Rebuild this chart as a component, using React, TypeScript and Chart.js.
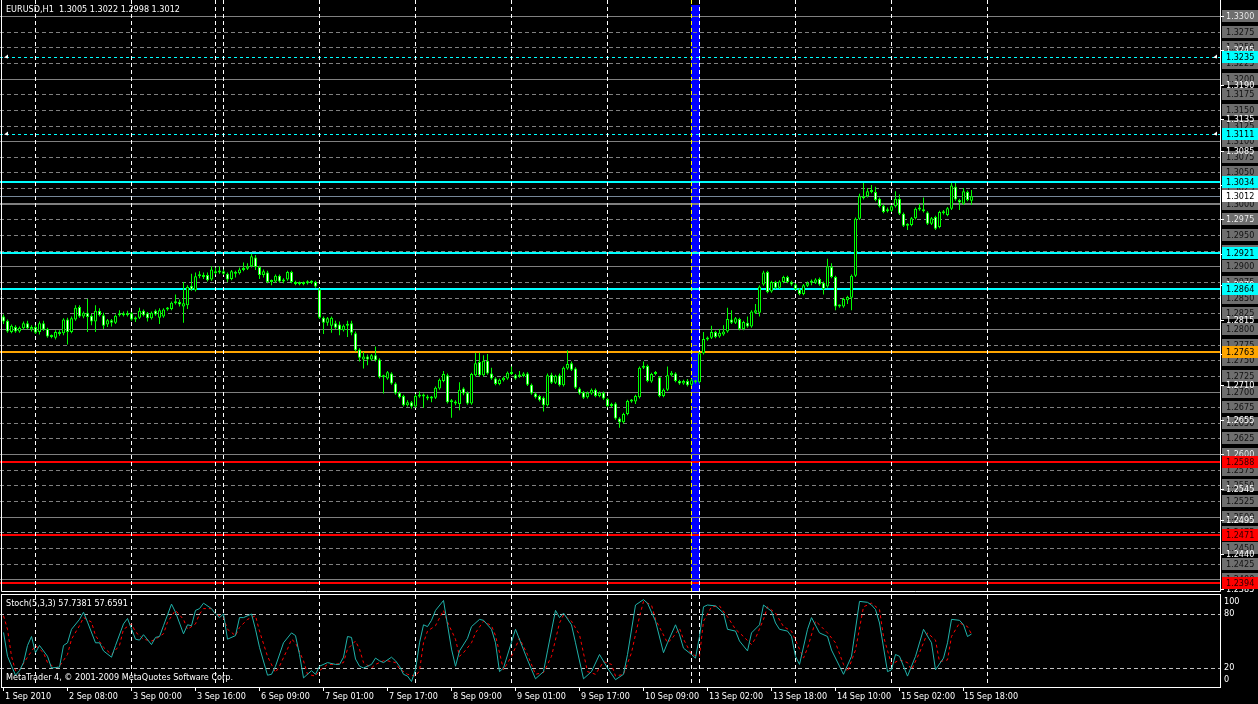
import React, { useEffect, useRef } from 'react';
import { Chart, registerables } from 'chart.js';

Chart.register(...registerables);

// ---------- texts ----------
const SYMBOL_TITLE = 'EURUSD,H1  1.3005 1.3022 1.2998 1.3012';
const STOCH_TITLE = 'Stoch(5,3,3) 57.7381 57.6591';
const COPYRIGHT = 'MetaTrader 4, \u00a9 2001-2009 MetaQuotes Software Corp.';

// ---------- hourly candles, prices in pips (1.2820 -> 12820) ----------
const OPEN = [
  12820, 12813, 12795, 12803, 12796, 12801, 12809, 12799, 12803, 12795,
  12809, 12800, 12787, 12786, 12795, 12793, 12815, 12795, 12815, 12835,
  12820, 12826, 12821, 12812, 12829, 12822, 12807, 12814, 12810, 12822,
  12825, 12822, 12825, 12815, 12818, 12829, 12825, 12817, 12829, 12818,
  12820, 12831, 12832, 12841, 12843, 12836, 12838, 12869, 12862, 12884,
  12885, 12886, 12879, 12892, 12890, 12892, 12888, 12880, 12891, 12889,
  12894, 12896, 12900, 12914, 12899, 12886, 12890, 12875, 12876, 12885,
  12876, 12879, 12891, 12875, 12872, 12874, 12873, 12876, 12875, 12863,
  12818, 12810, 12805, 12809, 12807, 12798, 12805, 12809, 12793, 12767,
  12751, 12756, 12751, 12758, 12751, 12723, 12721, 12729, 12713, 12698,
  12693, 12678, 12683, 12676, 12692, 12695, 12692, 12689, 12690, 12705,
  12717, 12726, 12683, 12683, 12680, 12705, 12698, 12681, 12726, 12747,
  12726, 12749, 12729, 12721, 12712, 12718, 12721, 12730, 12726, 12725,
  12725, 12729, 12711, 12697, 12693, 12690, 12678, 12727, 12714, 12726,
  12710, 12737, 12745, 12737, 12705, 12699, 12691, 12697, 12703, 12693,
  12698, 12688, 12677, 12681, 12657, 12651, 12664, 12685, 12684, 12691,
  12738, 12741, 12716, 12728, 12723, 12693, 12703, 12726, 12729, 12717,
  12713, 12717, 12711, 12717, 12715, 12761, 12783, 12786, 12795, 12788,
  12791, 12796, 12815, 12810, 12816, 12800, 12810, 12804, 12826, 12826,
  12871, 12891, 12860, 12875, 12866, 12875, 12883, 12875, 12871, 12863,
  12856, 12869, 12874, 12874, 12880, 12874, 12868, 12899, 12883, 12836,
  12836, 12846, 12850, 12885, 12976, 13012, 13012, 13020, 13019, 13008,
  12997, 12988, 12989, 12996, 13008, 12984, 12965, 12966, 12977, 12991,
  12990, 12986, 12968, 12979, 12963, 12985, 12982, 12992, 13027, 13006,
  13000, 13019, 13005,
];
const HIGH = [
  12823, 12815, 12807, 12806, 12804, 12812, 12813, 12806, 12806, 12812,
  12813, 12802, 12791, 12798, 12798, 12817, 12818, 12820, 12838, 12838,
  12828, 12848, 12824, 12838, 12833, 12826, 12816, 12816, 12823, 12830,
  12828, 12829, 12827, 12820, 12834, 12831, 12827, 12828, 12831, 12833,
  12833, 12835, 12844, 12855, 12847, 12875, 12870, 12888, 12890, 12892,
  12890, 12890, 12900, 12898, 12900, 12895, 12890, 12894, 12893, 12898,
  12906, 12905, 12920, 12918, 12901, 12895, 12893, 12879, 12887, 12887,
  12881, 12893, 12893, 12877, 12876, 12876, 12878, 12878, 12877, 12865,
  12820, 12819, 12820, 12813, 12812, 12807, 12813, 12813, 12796, 12769,
  12763, 12759, 12760, 12772, 12753, 12727, 12733, 12731, 12715, 12700,
  12695, 12686, 12685, 12696, 12700, 12697, 12695, 12693, 12708, 12721,
  12733, 12729, 12688, 12686, 12715, 12707, 12700, 12730, 12762, 12762,
  12758, 12760, 12738, 12723, 12721, 12724, 12732, 12740, 12728, 12733,
  12731, 12731, 12713, 12699, 12695, 12692, 12729, 12730, 12727, 12729,
  12740, 12766, 12748, 12739, 12707, 12701, 12700, 12705, 12705, 12700,
  12700, 12690, 12682, 12683, 12659, 12666, 12687, 12688, 12695, 12740,
  12748, 12743, 12730, 12733, 12725, 12705, 12740, 12733, 12731, 12719,
  12719, 12720, 12720, 12719, 12763, 12795, 12788, 12805, 12797, 12800,
  12806, 12834, 12830, 12819, 12818, 12813, 12820, 12830, 12840, 12870,
  12893, 12893, 12877, 12877, 12878, 12885, 12885, 12877, 12873, 12865,
  12872, 12876, 12879, 12881, 12882, 12876, 12912, 12905, 12885, 12839,
  12850, 12853, 12887, 12978, 13016, 13033, 13025, 13030, 13027, 13010,
  12999, 12994, 12998, 13020, 13015, 12986, 12969, 12979, 12994, 13000,
  13010, 12988, 12979, 12981, 12989, 12990, 12995, 13033, 13033, 13008,
  13025, 13021, 13022,
];
const LOW = [
  12808, 12794, 12793, 12794, 12794, 12799, 12799, 12796, 12792, 12791,
  12797, 12786, 12785, 12783, 12789, 12790, 12775, 12793, 12813, 12818,
  12817, 12795, 12806, 12795, 12820, 12800, 12803, 12804, 12808, 12820,
  12820, 12820, 12813, 12811, 12816, 12820, 12812, 12815, 12821, 12808,
  12818, 12829, 12830, 12839, 12836, 12810, 12832, 12861, 12860, 12881,
  12880, 12876, 12877, 12887, 12888, 12886, 12875, 12878, 12882, 12887,
  12892, 12894, 12898, 12894, 12880, 12882, 12873, 12870, 12874, 12874,
  12873, 12877, 12873, 12870, 12870, 12870, 12871, 12872, 12866, 12816,
  12792, 12805, 12794, 12800, 12790, 12796, 12787, 12790, 12764, 12748,
  12737, 12742, 12749, 12748, 12721, 12697, 12719, 12711, 12695, 12689,
  12676, 12676, 12673, 12674, 12690, 12674, 12686, 12683, 12688, 12703,
  12715, 12681, 12658, 12678, 12670, 12694, 12679, 12679, 12724, 12724,
  12724, 12727, 12719, 12710, 12710, 12716, 12719, 12727, 12719, 12722,
  12723, 12709, 12695, 12689, 12684, 12668, 12676, 12712, 12712, 12708,
  12708, 12735, 12733, 12704, 12695, 12688, 12689, 12695, 12691, 12691,
  12687, 12675, 12675, 12655, 12642, 12649, 12662, 12682, 12680, 12689,
  12736, 12715, 12714, 12726, 12691, 12691, 12701, 12724, 12715, 12711,
  12711, 12708, 12709, 12713, 12713, 12759, 12781, 12784, 12785, 12786,
  12789, 12794, 12808, 12808, 12798, 12798, 12802, 12802, 12824, 12820,
  12869, 12857, 12858, 12864, 12864, 12873, 12873, 12869, 12862, 12854,
  12854, 12867, 12870, 12872, 12869, 12855, 12866, 12881, 12830, 12834,
  12834, 12840, 12830, 12883, 12974, 13007, 13010, 13017, 13004, 12994,
  12985, 12986, 12987, 12994, 12982, 12963, 12958, 12964, 12975, 12989,
  12986, 12966, 12966, 12958, 12961, 12983, 12980, 12990, 13005, 12990,
  12998, 13004, 12998,
];
const CLOSE = [
  12812, 12796, 12805, 12796, 12802, 12809, 12801, 12803, 12794, 12809,
  12799, 12788, 12789, 12795, 12792, 12815, 12795, 12817, 12834, 12820,
  12826, 12819, 12812, 12829, 12822, 12805, 12814, 12810, 12821, 12825,
  12822, 12825, 12815, 12818, 12829, 12822, 12817, 12826, 12823, 12830,
  12831, 12833, 12842, 12843, 12839, 12841, 12867, 12863, 12884, 12885,
  12883, 12878, 12895, 12889, 12892, 12888, 12879, 12892, 12888, 12895,
  12896, 12900, 12916, 12899, 12886, 12892, 12875, 12877, 12885, 12876,
  12879, 12891, 12875, 12872, 12874, 12872, 12876, 12874, 12868, 12818,
  12810, 12817, 12818, 12802, 12798, 12805, 12807, 12794, 12766, 12754,
  12756, 12751, 12758, 12750, 12723, 12725, 12731, 12713, 12697, 12691,
  12678, 12683, 12676, 12693, 12695, 12692, 12689, 12691, 12706, 12719,
  12728, 12683, 12686, 12681, 12703, 12697, 12681, 12728, 12745, 12726,
  12749, 12729, 12721, 12712, 12719, 12722, 12730, 12728, 12721, 12724,
  12729, 12711, 12697, 12691, 12686, 12678, 12726, 12714, 12725, 12710,
  12738, 12744, 12735, 12706, 12697, 12690, 12698, 12703, 12693, 12698,
  12689, 12677, 12680, 12657, 12651, 12664, 12685, 12684, 12693, 12738,
  12741, 12717, 12728, 12729, 12693, 12703, 12726, 12730, 12717, 12713,
  12717, 12710, 12718, 12715, 12761, 12784, 12786, 12795, 12787, 12794,
  12796, 12816, 12810, 12817, 12800, 12811, 12804, 12828, 12830, 12868,
  12890, 12859, 12875, 12866, 12876, 12883, 12875, 12871, 12864, 12856,
  12870, 12874, 12875, 12879, 12871, 12864, 12900, 12883, 12836, 12837,
  12848, 12851, 12885, 12976, 13012, 13009, 13020, 13019, 13006, 12996,
  12987, 12991, 12996, 13008, 12984, 12965, 12967, 12977, 12992, 12993,
  12988, 12968, 12977, 12960, 12987, 12988, 12993, 13029, 13007, 13002,
  13020, 13006, 13012,
];

// ---------- Stochastic(5,3,3): vertices read from the sub-window [bar, value] ----------
const STOCH_MAIN: [number, number][] = [
  [0, 59.5], [1, 33], [3, 12], [4, 17], [5, 26], [6, 45], [7, 55], [8, 37], [9, 45], [11, 33],
  [12, 20], [14, 21], [15, 45], [16, 48], [17, 63], [19, 74], [20, 82], [21, 71], [23, 48], [24, 48],
  [25, 39], [27, 32], [28, 45], [30, 69], [31, 75], [33, 52], [34, 51], [35, 57], [37, 46], [38, 54],
  [39, 55], [40, 67], [42, 91], [43, 82], [45, 58], [46, 68], [47, 67], [48, 84], [49, 86], [50, 92],
  [52, 86], [53, 80], [54, 76], [55, 80], [56, 52], [58, 56], [59, 76], [60, 76], [62, 80], [63, 63],
  [64, 43], [66, 12], [67, 13], [68, 22], [70, 48], [72, 59], [73, 56], [74, 35], [75, 9], [77, 17],
  [78, 13], [79, 22], [81, 26], [83, 24], [84, 24], [85, 32], [86, 55], [87, 54], [88, 30], [89, 22],
  [90, 20], [92, 24], [93, 31], [94, 28], [95, 26], [97, 32], [98, 28], [99, 22], [100, 13], [101, 11],
  [102, 5], [103, 18], [104, 48], [105, 68], [106, 66], [107, 73], [108, 84], [110, 95], [111, 68], [112, 41],
  [113, 22], [114, 39], [116, 53], [117, 66], [119, 74], [120, 73], [122, 63], [123, 48], [124, 16], [125, 20],
  [128, 63], [131, 29], [133, 8], [135, 16], [136, 39], [138, 84], [139, 76], [140, 81], [142, 68], [143, 48],
  [145, 8], [147, 16], [149, 35], [151, 20], [153, 7], [155, 13], [156, 35], [158, 90], [160, 96], [161, 92],
  [163, 72], [165, 37], [166, 48], [168, 68], [169, 57], [170, 42], [172, 35], [173, 31], [174, 55], [175, 88],
  [176, 90], [178, 89], [180, 81], [181, 63], [183, 61], [184, 50], [186, 39], [187, 59], [189, 68], [190, 90],
  [192, 83], [193, 70], [194, 63], [196, 61], [197, 55], [198, 33], [199, 24], [201, 63], [202, 76], [204, 59],
  [206, 55], [207, 40], [209, 22], [210, 13], [212, 33], [214, 94], [216, 93], [217, 90], [218, 85], [219, 70],
  [221, 16], [222, 18], [223, 35], [224, 33], [226, 11], [228, 33], [230, 63], [232, 48], [233, 18], [235, 31],
  [236, 48], [237, 74], [239, 73], [240, 68], [241, 55], [242, 57.7381],
];
const STOCH_SIGNAL: [number, number][] = [
  [0, 78], [1, 63], [2, 33], [3, 17], [4, 18], [6, 32], [8, 45], [10, 37], [11, 26], [13, 20],
  [14, 22], [16, 35], [17, 52], [19, 67], [20, 76], [22, 71], [23, 56], [25, 43], [27, 35], [29, 45],
  [30, 63], [32, 69], [33, 60], [35, 52], [37, 50], [38, 52], [40, 58], [41, 71], [43, 84], [45, 74],
  [46, 63], [48, 69], [49, 80], [50, 86], [52, 86], [53, 80], [55, 76], [56, 63], [58, 56], [59, 65],
  [61, 74], [63, 78], [64, 61], [66, 33], [68, 15], [69, 22], [71, 41], [72, 52], [73, 48], [75, 28],
  [76, 13], [78, 11], [79, 17], [81, 24], [83, 24], [85, 26], [86, 41], [88, 50], [89, 41], [90, 26],
  [92, 20], [93, 24], [95, 28], [96, 28], [98, 26], [99, 19], [101, 13], [103, 11], [104, 17], [105, 48],
  [106, 61], [108, 67], [110, 84], [111, 71], [113, 52], [114, 33], [115, 37], [117, 48], [118, 59], [120, 72],
  [122, 67], [123, 56], [125, 18], [127, 33], [129, 53], [131, 35], [133, 13], [135, 15], [137, 33], [139, 70],
  [140, 79], [142, 72], [144, 57], [146, 16], [148, 13], [150, 27], [152, 24], [153, 11], [155, 13], [157, 37],
  [159, 77], [160, 94], [162, 90], [163, 74], [166, 48], [167, 52], [169, 64], [170, 52], [172, 35], [174, 33],
  [175, 72], [177, 88], [179, 89], [181, 77], [183, 63], [185, 55], [187, 46], [188, 53], [190, 74], [191, 88],
  [193, 81], [195, 66], [197, 61], [198, 51], [200, 31], [201, 42], [203, 72], [204, 68], [206, 59], [208, 48],
  [210, 24], [211, 16], [213, 40], [215, 88], [217, 92], [219, 85], [220, 55], [222, 24], [224, 29], [226, 26],
  [227, 18], [229, 37], [231, 59], [233, 51], [234, 27], [236, 29], [237, 55], [239, 70], [241, 66], [242, 57.6591],
];

// ---------- time axis ----------
const TIME_LABEL_BARS = [0, 16, 32, 48, 64, 80, 96, 112, 128, 144, 160, 176, 192, 208, 224, 240];
const TIME_LABELS = [
  '1 Sep 2010', '2 Sep 08:00', '3 Sep 00:00', '3 Sep 16:00', '6 Sep 09:00', '7 Sep 01:00',
  '7 Sep 17:00', '8 Sep 09:00', '9 Sep 01:00', '9 Sep 17:00', '10 Sep 09:00', '13 Sep 02:00',
  '13 Sep 18:00', '14 Sep 10:00', '15 Sep 02:00', '15 Sep 18:00',
];
const DAY_SEPARATOR_BARS = [8, 32, 53, 55, 79, 103, 127, 151, 172, 174, 198, 222, 246];
const MARKED_BARS = [172, 174];

// ---------- price axis ----------
const PRICE_AXIS_TICKS = [
  1.33, 1.3245, 1.319, 1.3135, 1.3085, 1.303, 1.2975, 1.292, 1.287, 1.2815,
  1.276, 1.271, 1.2655, 1.26, 1.2545, 1.2495, 1.244, 1.2385,
];
const GREY_LEVELS = [
  1.33, 1.3275, 1.325, 1.3225, 1.32, 1.3175, 1.315, 1.3125, 1.31, 1.3075,
  1.305, 1.3025, 1.3, 1.2975, 1.295, 1.2925, 1.29, 1.2875, 1.285, 1.2825,
  1.28, 1.2775, 1.275, 1.2725, 1.27, 1.2675, 1.265, 1.2625, 1.26, 1.2575,
  1.255, 1.2525, 1.25, 1.2475, 1.245, 1.2425, 1.24,
];
const LEVEL_PRICES = [1.3235, 1.3111, 1.3034, 1.2921, 1.2864, 1.2763, 1.2588, 1.2471, 1.2394];
const LEVEL_COLORS = ['#00ffff', '#00ffff', '#00ffff', '#00ffff', '#00ffff', '#ffa500', '#ff0000', '#ff0000', '#ff0000'];
const LEVEL_DASHED = [true, true, false, false, false, false, false, false, false];
const BID_PRICE = 1.3012;
const STOCH_LEVELS = [80, 20];
const STOCH_AXIS = [100, 80, 20, 0];

const PIP = 10000;
const FONT = '9px "DejaVu Sans Condensed", "Liberation Sans", Arial, sans-serif';

const BARS = OPEN.map((_, i) => i);

function isMajor(p: number) {
  return Math.round(p * PIP) % 100 === 0;
}

const mainDecor = {
  id: 'mainDecor',
  beforeDraw(chart: any) {
    const { ctx, width, height } = chart;
    ctx.save();
    ctx.fillStyle = '#000';
    ctx.fillRect(0, 0, width, height);
    ctx.restore();
  },
  beforeDatasetsDraw(chart: any) {
    const { ctx, chartArea: a } = chart;
    const xs = chart.scales.x;
    const ys = chart.scales.y;
    ctx.save();
    // blue marked period
    const bx0 = xs.getPixelForValue(MARKED_BARS[0]) - 0.5;
    const bx1 = xs.getPixelForValue(MARKED_BARS[1]) + 0.5;
    ctx.fillStyle = '#0000ff';
    ctx.fillRect(bx0, a.top + 5, bx1 - bx0, a.bottom - a.top - 5);

    // grey levels
    ctx.lineWidth = 1;
    GREY_LEVELS.forEach((p) => {
      const y = Math.round(ys.getPixelForValue(p));
      ctx.strokeStyle = '#808080';
      if (isMajor(p)) {
        ctx.setLineDash([]);
        ctx.lineWidth = p === 1.3 ? 2 : 1;
        ctx.beginPath();
        ctx.moveTo(a.left, p === 1.3 ? y : y + 0.5);
        ctx.lineTo(a.right, p === 1.3 ? y : y + 0.5);
        ctx.stroke();
        ctx.lineWidth = 1;
      } else {
        ctx.setLineDash([4, 3]);
        ctx.beginPath();
        ctx.moveTo(a.left, y + 0.5);
        ctx.lineTo(a.right, y + 0.5);
        ctx.stroke();
      }
    });
    // bid line
    ctx.setLineDash([]);
    ctx.strokeStyle = '#778899';
    const by = Math.round(ys.getPixelForValue(BID_PRICE)) + 0.5;
    ctx.beginPath();
    ctx.moveTo(a.left, by);
    ctx.lineTo(a.right, by);
    ctx.stroke();

    // coloured levels
    LEVEL_PRICES.forEach((p, k) => {
      const y = Math.round(ys.getPixelForValue(p));
      ctx.strokeStyle = LEVEL_COLORS[k];
      if (LEVEL_DASHED[k]) {
        ctx.lineWidth = 1;
        ctx.setLineDash([3, 3]);
        ctx.beginPath();
        ctx.moveTo(a.left, y + 0.5);
        ctx.lineTo(a.right, y + 0.5);
        ctx.stroke();
      } else {
        ctx.lineWidth = 2;
        ctx.setLineDash([]);
        ctx.beginPath();
        ctx.moveTo(a.left, y);
        ctx.lineTo(a.right, y);
        ctx.stroke();
      }
    });

    // day separators
    ctx.lineWidth = 1;
    ctx.setLineDash([4, 3]);
    DAY_SEPARATOR_BARS.forEach((b) => {
      const x = xs.getPixelForValue(b);
      ctx.strokeStyle = b === MARKED_BARS[0] ? '#ffff00' : '#ffffff';
      ctx.beginPath();
      ctx.moveTo(x, a.top);
      ctx.lineTo(x, a.bottom);
      ctx.stroke();
    });
    ctx.restore();
  },
  afterDatasetsDraw(chart: any) {
    const { ctx, chartArea: a } = chart;
    const ys = chart.scales.y;
    ctx.save();
    // frame
    ctx.strokeStyle = '#ffffff';
    ctx.lineWidth = 1;
    ctx.setLineDash([]);
    ctx.beginPath();
    ctx.moveTo(1.5, a.top);
    ctx.lineTo(1.5, a.bottom + 0.5);
    ctx.lineTo(a.right + 0.5, a.bottom + 0.5);
    ctx.lineTo(a.right + 0.5, a.top);
    ctx.stroke();

    // arrows on dashed levels
    ctx.fillStyle = '#ffffff';
    LEVEL_PRICES.forEach((p, k) => {
      if (!LEVEL_DASHED[k]) return;
      const y = Math.round(ys.getPixelForValue(p)) + 0.5;
      [4, a.right - 7].forEach((x0) => {
        ctx.beginPath();
        ctx.moveTo(x0, y);
        ctx.lineTo(x0 + 4, y - 3);
        ctx.lineTo(x0 + 4, y + 1);
        ctx.closePath();
        ctx.fill();
      });
    });

    ctx.font = FONT;
    ctx.textBaseline = 'middle';
    ctx.textAlign = 'left';
    const bx = a.right + 2;
    const bw = chart.width - bx;
    // grey boxes
    GREY_LEVELS.forEach((p) => {
      const y = Math.round(ys.getPixelForValue(p));
      ctx.fillStyle = '#6e6e6e';
      ctx.fillRect(bx, y - 6, bw, 12);
      ctx.fillStyle = '#111111';
      ctx.fillText(p.toFixed(4), bx + 4, y + 0.5);
    });
    // axis ticks
    PRICE_AXIS_TICKS.forEach((p) => {
      const y = Math.round(ys.getPixelForValue(p));
      ctx.strokeStyle = '#ffffff';
      ctx.beginPath();
      ctx.moveTo(a.right, y + 0.5);
      ctx.lineTo(a.right + 4, y + 0.5);
      ctx.stroke();
      ctx.fillStyle = '#ffffff';
      ctx.fillText(p.toFixed(4), bx + 4, y + 0.5);
    });
    // bid box
    {
      const y = Math.round(ys.getPixelForValue(BID_PRICE));
      ctx.fillStyle = '#ffffff';
      ctx.fillRect(bx, y - 6, bw, 12);
      ctx.fillStyle = '#000000';
      ctx.fillText(BID_PRICE.toFixed(4), bx + 4, y + 0.5);
    }
    // coloured boxes
    LEVEL_PRICES.forEach((p, k) => {
      const y = Math.round(ys.getPixelForValue(p));
      ctx.fillStyle = LEVEL_COLORS[k];
      ctx.fillRect(bx, y - 6, bw, 12);
      ctx.fillStyle = LEVEL_COLORS[k] === '#ff0000' ? '#2a0000' : '#000000';
      ctx.fillText(p.toFixed(4), bx + 4, y + 0.5);
    });

    // header
    ctx.fillStyle = '#ffffff';
    ctx.fillText(SYMBOL_TITLE, 6, 10);
    ctx.restore();
  },
};

const stochDecor = {
  id: 'stochDecor',
  beforeDraw(chart: any) {
    const { ctx, width, height } = chart;
    ctx.save();
    ctx.fillStyle = '#000';
    ctx.fillRect(0, 0, width, height);
    ctx.restore();
  },
  beforeDatasetsDraw(chart: any) {
    const { ctx, chartArea: a } = chart;
    const xs = chart.scales.x;
    const ys = chart.scales.y;
    ctx.save();
    ctx.lineWidth = 1;
    ctx.setLineDash([4, 3]);
    ctx.strokeStyle = '#c0c0c0';
    STOCH_LEVELS.forEach((v) => {
      const y = Math.round(ys.getPixelForValue(v)) + 0.5;
      ctx.beginPath();
      ctx.moveTo(a.left, y);
      ctx.lineTo(a.right, y);
      ctx.stroke();
    });
    ctx.strokeStyle = '#ffffff';
    DAY_SEPARATOR_BARS.forEach((b) => {
      const x = xs.getPixelForValue(b);
      ctx.beginPath();
      ctx.moveTo(x, a.top - 1);
      ctx.lineTo(x, a.bottom);
      ctx.stroke();
    });
    ctx.restore();
  },
  afterDatasetsDraw(chart: any) {
    const { ctx, chartArea: a } = chart;
    const xs = chart.scales.x;
    const ys = chart.scales.y;
    ctx.save();
    ctx.setLineDash([]);
    ctx.strokeStyle = '#ffffff';
    ctx.lineWidth = 1;
    ctx.strokeRect(1.5, a.top - 1.5, a.right - 1, a.bottom - a.top + 3);

    ctx.font = FONT;
    ctx.textBaseline = 'middle';
    ctx.textAlign = 'left';
    ctx.fillStyle = '#ffffff';
    // stoch axis
    STOCH_AXIS.forEach((v) => {
      const y = Math.min(Math.max(ys.getPixelForValue(v), a.top + 6), a.bottom - 6);
      ctx.fillText(String(v), a.right + 4, y);
    });
    // time axis
    TIME_LABEL_BARS.forEach((b, k) => {
      const x = xs.getPixelForValue(b);
      ctx.beginPath();
      ctx.moveTo(x, a.bottom + 1);
      ctx.lineTo(x, a.bottom + 5);
      ctx.stroke();
      ctx.fillText(TIME_LABELS[k], Math.round(x) + 1, a.bottom + 11);
    });
    ctx.fillText(STOCH_TITLE, 6, a.top + 8);
    ctx.fillText(COPYRIGHT, 6, a.bottom - 8);
    ctx.restore();
  },
};

const X_MIN = -0.875;
const X_MAX = 304.125;

export default function App() {
  const mainRef = useRef<HTMLCanvasElement>(null);
  const stochRef = useRef<HTMLCanvasElement>(null);

  useEffect(() => {
    document.body.style.margin = '0';
    document.body.style.background = '#000';

    const wickData = BARS.map((i) => ({ x: i, y: [LOW[i] / PIP, HIGH[i] / PIP] }));
    const bodyData = BARS.map((i) => ({
      x: i,
      y: [Math.min(OPEN[i], CLOSE[i]) / PIP, Math.max(OPEN[i], CLOSE[i]) / PIP],
    }));
    const bodyFill = BARS.map((i) => (CLOSE[i] < OPEN[i] ? '#ffffff' : '#000000'));

    const main = new Chart(mainRef.current as HTMLCanvasElement, {
      type: 'bar',
      data: {
        datasets: [
          {
            data: bodyData as any,
            backgroundColor: bodyFill,
            borderColor: '#00ff00',
            borderWidth: 1,
            borderSkipped: false,
            barThickness: 3,
            minBarLength: 2,
            grouped: false,
            inflateAmount: 0,
          } as any,
          {
            data: wickData as any,
            backgroundColor: '#00ff00',
            borderWidth: 0,
            barThickness: 1,
            grouped: false,
            inflateAmount: 0,
          } as any,
        ],
      },
      options: {
        animation: false,
        responsive: false,
        devicePixelRatio: 1,
        events: [],
        layout: { padding: { left: 0, right: 38, top: 0, bottom: 1 } },
        plugins: { legend: { display: false }, tooltip: { enabled: false } },
        scales: {
          x: { type: 'linear', min: X_MIN, max: X_MAX, display: false, offset: false },
          y: { type: 'linear', min: 1.238132, max: 1.332556, display: false },
        },
      } as any,
      plugins: [mainDecor],
    });

    const stoch = new Chart(stochRef.current as HTMLCanvasElement, {
      type: 'line',
      data: {
        datasets: [
          {
            data: STOCH_MAIN.map(([x, y]) => ({ x, y })),
            borderColor: '#20b2aa',
            borderWidth: 1,
            pointRadius: 0,
            tension: 0,
          },
          {
            data: STOCH_SIGNAL.map(([x, y]) => ({ x, y })),
            borderColor: '#ff0000',
            borderWidth: 1,
            borderDash: [3, 3],
            pointRadius: 0,
            tension: 0,
          },
        ],
      },
      options: {
        animation: false,
        responsive: false,
        devicePixelRatio: 1,
        events: [],
        layout: { padding: { left: 0, right: 38, top: 4, bottom: 18 } },
        plugins: { legend: { display: false }, tooltip: { enabled: false } },
        scales: {
          x: { type: 'linear', min: X_MIN, max: X_MAX, display: false },
          y: { type: 'linear', min: 0, max: 100, display: false },
        },
      } as any,
      plugins: [stochDecor],
    });

    return () => {
      main.destroy();
      stoch.destroy();
    };
  }, []);

  return (
    <div style={{ position: 'relative', width: 1258, height: 704, background: '#000', overflow: 'hidden' }}>
      <canvas
        ref={mainRef}
        width={1258}
        height={592}
        style={{ position: 'absolute', left: 0, top: 0, width: 1258, height: 592 }}
      />
      <canvas
        ref={stochRef}
        width={1258}
        height={112}
        style={{ position: 'absolute', left: 0, top: 592, width: 1258, height: 112 }}
      />
    </div>
  );
}
